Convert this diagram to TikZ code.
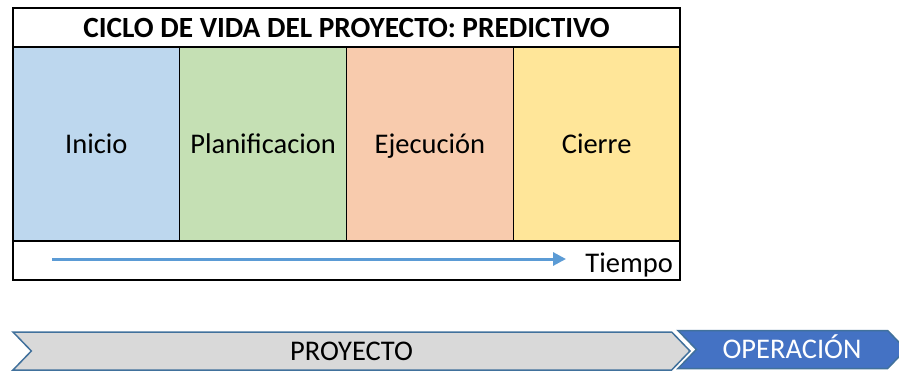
\documentclass[tikz,border=0pt]{standalone}
\usepackage{fontspec}
\setmainfont{Carlito}
\usetikzlibrary{positioning,shapes.symbols,arrows.meta}

\definecolor{inicioblue}{HTML}{BDD7EE}
\definecolor{planegreen}{HTML}{C5E0B4}
\definecolor{ejecorange}{HTML}{F8CBAD}
\definecolor{cierreyellow}{HTML}{FFE699}
\definecolor{timeblue}{HTML}{5B9BD5}
\definecolor{chevgray}{HTML}{D9D9D9}
\definecolor{chevedge}{HTML}{41719C}
\definecolor{operblue}{HTML}{4472C4}

\begin{document}
\begin{tikzpicture}
  [x=1pt,y=-1pt,
   bigfont/.style={font=\fontsize{28.5}{34}\selectfont},
   titlebox/.style={rectangle,draw=black,line width=1.3pt,fill=white,minimum width=667pt,minimum height=39pt,inner sep=0pt,outer sep=0pt,font=\fontsize{29.3}{34}\selectfont\bfseries},
   phase/.style={rectangle,draw=black,line width=1.3pt,minimum width=166.75pt,minimum height=194pt,inner sep=0pt,outer sep=0pt,text height=18.4pt,text depth=0pt,bigfont},
   timebox/.style={rectangle,draw=black,line width=1.3pt,fill=white,minimum width=667pt,minimum height=39pt,inner sep=0pt,outer sep=0pt},
   chevron/.style={shape=signal,signal to=east,signal from=west,signal pointer angle=92,line width=1.5pt,draw=chevedge,minimum height=38pt,inner sep=0pt,outer sep=0pt,text height=18.4pt,text depth=0pt,bigfont}]
  \useasboundingbox (0,0) rectangle (899,372);

  % table
  \node (title) [titlebox] at (346.5,27.5) {CICLO DE VIDA DEL PROYECTO: PREDICTIVO};
  \node (inicio) [phase,fill=inicioblue,below=0pt of title.south west,anchor=north west] {Inicio};
  \node (plan) [phase,fill=planegreen,right=0pt of inicio] {Planificacion};
  \node (ejec) [phase,fill=ejecorange,right=0pt of plan] {Ejecución};
  \node (cierre) [phase,fill=cierreyellow,right=0pt of ejec] {Cierre};
  \node (time) [timebox,below=0pt of inicio.south west,anchor=north west] {};
  \node (tiempo) [bigfont,anchor=base east,inner sep=0pt] at (673,272) {Tiempo};
  \coordinate (t0) at (52,259);
  \coordinate (t1) at (566,259);
  \draw [timeblue,line width=3pt,-{Triangle[length=13pt,width=13pt]}] (t0) -- (t1);
  \draw [line width=2.2pt] (title.north west) rectangle (time.south east);

  % phases of the project
  \node (proyecto) [chevron,fill=chevgray,minimum width=677pt] at (351.5,351) {PROYECTO};
  \node (operacion) [chevron,fill=operblue,text=white,minimum width=228pt] at (792,349.5) {OPERACIÓN};
\end{tikzpicture}
\end{document}
